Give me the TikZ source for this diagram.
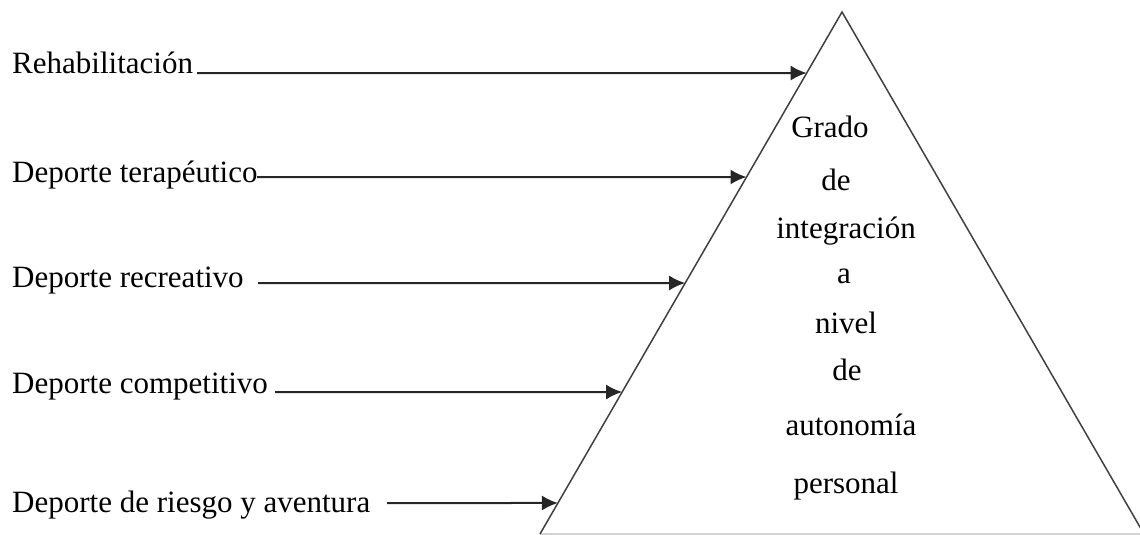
\documentclass[tikz,border=0pt]{standalone}
\usepackage{fontspec}
\setmainfont{Liberation Serif}
\usetikzlibrary{calc,arrows.meta}
\begin{document}
\begin{tikzpicture}[x=1pt,y=-1pt,
  lbl/.style={anchor=base west,inner sep=0pt,font=\fontsize{31}{37}\selectfont},
  word/.style={anchor=base,inner sep=0pt,font=\fontsize{31}{37}\selectfont},
  arr/.style={draw=black!85,line width=2pt,-{Latex[length=16pt,width=15pt]}},
  tri/.style={draw=black!75,line width=1.5pt,line join=miter}]
\useasboundingbox (0,0) rectangle (1140,535);
% triangle
\coordinate (apex) at (842,12);
\coordinate (bl) at (540,534);
\coordinate (br) at (1144,534);
\draw[gray!35,line width=1.2pt] (bl) -- (br);
\draw[tri] (bl) -- (apex) -- (br);
% labels
\node[lbl] (l1) at (12,74) {Rehabilitación};
\node[lbl] (l2) at (12,182) {Deporte terapéutico};
\node[lbl] (l3) at (12,287) {Deporte recreativo};
\node[lbl] (l4) at (12,393) {Deporte competitivo};
\node[lbl] (l5) at (12,512) {Deporte de riesgo y aventura};
% arrow starts
\coordinate (s1) at (197,73);
\coordinate (s2) at (257,177);
\coordinate (s3) at (258,283);
\coordinate (s4) at (275,392);
\coordinate (s5) at (387,503);
% arrow ends on the left side of the triangle
\coordinate (e1) at ($(apex)!0.1169!(bl)$);
\coordinate (e2) at ($(apex)!0.3161!(bl)$);
\coordinate (e3) at ($(apex)!0.5192!(bl)$);
\coordinate (e4) at ($(apex)!0.7280!(bl)$);
\coordinate (e5) at ($(apex)!0.9406!(bl)$);
\draw[arr] (s1) -- (e1);
\draw[arr] (s2) -- (e2);
\draw[arr] (s3) -- (e3);
\draw[arr] (s4) -- (e4);
\draw[arr] (s5) -- (e5);
% text inside the triangle
\node[word] (w1) at (830,137) {Grado};
\node[word] (w2) at (836,190) {de};
\node[word] (w3) at (846,238) {integración};
\node[word] (w4) at (844,283) {a};
\node[word] (w5) at (846,333) {nivel};
\node[word] (w6) at (847,380) {de};
\node[word] (w7) at (851,435) {autonomía};
\node[word] (w8) at (846,493) {personal};
\end{tikzpicture}
\end{document}
